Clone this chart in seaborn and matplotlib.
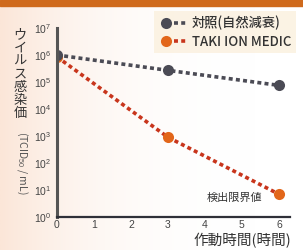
import matplotlib
matplotlib.use("Agg")
import matplotlib.pyplot as plt
import numpy as np
import pandas as pd
import seaborn as sns
from matplotlib.lines import Line2D
from matplotlib.legend_handler import HandlerTuple
from matplotlib.patches import Rectangle

hours = [0, 3, 6]
control = [1.0e6, 2.7e5, 7.5e4]
taki = [8.5e5, 9.0e2, 7.0]
series_names = ["対照(自然減衰)", "TAKI ION MEDIC"]
x_ticks = [0, 1, 2, 3, 4, 5, 6]
y_ticks = [1e0, 1e1, 1e2, 1e3, 1e4, 1e5, 1e6, 1e7]
y_tick_labels = ["$10^{%d}$" % i for i in range(8)]

df = pd.DataFrame({"hour": hours * 2,
                   "value": control + taki,
                   "series": [series_names[0]] * 3 + [series_names[1]] * 3})

sns.set_style("white")
plt.rcParams["font.family"] = ["Noto Sans CJK JP", "DejaVu Sans"]
plt.rcParams["mathtext.fontset"] = "custom"
plt.rcParams["mathtext.rm"] = "Liberation Sans"

gray = "#4b4b55"
orange_mk = "#e2661a"
orange_ln = "#c8351c"

fig = plt.figure(figsize=(3.03, 2.5), dpi=100)
fig.patch.set_facecolor("white")
# faint peach edge on the left and orange band on top
bg = fig.add_axes([0, 0, 1, 1], zorder=-5)
bg.axis("off")
grad = np.linspace(1, 0, 300) ** 3
bg.imshow(np.tile(grad, (10, 1)), cmap=matplotlib.colors.LinearSegmentedColormap.from_list(
    "p", ["#ffffff", "#fbe6d8"]), aspect="auto", extent=(0, 1, 0, 1), vmin=0, vmax=1)
bg.set_xlim(0, 1)
bg.set_ylim(0, 1)
bg.add_patch(Rectangle((0, 1 - 6 / 250), 1, 6 / 250, color="#cf6a1c"))

ax = fig.add_axes([57 / 303, 1 - 217 / 250, 233 / 303, 189 / 250])
ax.set_facecolor("none")

dots = (0, (1.1, 0.9))
sns.lineplot(data=df[df.series == series_names[1]], x="hour", y="value", ax=ax,
             color=orange_ln, lw=2.6, linestyle=dots, marker="o", markersize=8,
             markeredgewidth=0, markerfacecolor=orange_mk, legend=False)
sns.lineplot(data=df[df.series == series_names[0]], x="hour", y="value", ax=ax,
             color=gray, lw=2.6, linestyle=dots, marker="o", markersize=8,
             markeredgewidth=0, markerfacecolor=gray, legend=False)

ax.set_yscale("log")
ax.set_ylim(1, 1e7)
ax.set_xlim(0, 6.3)
ax.set_xticks(x_ticks)
ax.set_xticklabels([str(t) for t in x_ticks], fontsize=7.5, color="#444444", family="Liberation Sans")
ax.set_yticks(y_ticks)
ax.set_yticklabels(y_tick_labels, fontsize=7.5, color="#444444")
ax.yaxis.set_minor_locator(matplotlib.ticker.NullLocator())
ax.tick_params(direction="in", length=5, width=1.5, color="#333333", pad=2)
ax.tick_params(axis="y", pad=4)
ax.set_xlabel("")
ax.set_ylabel("")
for s in ["top", "right"]:
    ax.spines[s].set_visible(False)
ax.spines["bottom"].set_color("#2f3038")
ax.spines["bottom"].set_linewidth(1.6)
ax.spines["left"].set_color("#555555")
ax.spines["left"].set_linewidth(2.2)

fig.text(20 / 303, 1 - 74 / 250, "\n".join("ウイルス感染価"), ha="center", va="center",
         fontsize=9.5, linespacing=1.02, color="#333333")
fig.text(22 / 303, 1 - 163 / 250, "(TCID$_{50}$ / mL)", rotation=-90, ha="center",
         va="center", fontsize=7.5, color="#555555")
fig.text(291 / 303, 1 - 241 / 250, "作動時間(時間)", ha="right", va="center",
         fontsize=10.5, color="#333333")
ax.text(5.55, 5.3, "検出限界値", ha="right", va="center", fontsize=8, color="#333333")

h1 = (Line2D([], [], ls="none", marker="o", markersize=8, markerfacecolor=gray, markeredgewidth=0),
      Line2D([], [], color=gray, lw=2.6, ls=(0, (1.1, 0.9))))
h2 = (Line2D([], [], ls="none", marker="o", markersize=8, markerfacecolor=orange_mk, markeredgewidth=0),
      Line2D([], [], color=orange_ln, lw=2.6, ls=(0, (1.1, 0.9))))
leg = fig.legend([h1, h2], series_names, handler_map={tuple: HandlerTuple(ndivide=None, pad=0)},
                 loc="upper right", bbox_to_anchor=(296 / 303, 1 - 11 / 250), frameon=True,
                 fontsize=9.5, handlelength=2.2, handletextpad=0.3, labelspacing=0.35,
                 borderpad=0.35, borderaxespad=0, fancybox=False)
leg.get_frame().set_facecolor("#fbf0de")
leg.get_frame().set_edgecolor("none")
for t in leg.get_texts():
    t.set_color("#333333")
    t.set_fontweight("medium")

fig.savefig("out.png", dpi=100)
